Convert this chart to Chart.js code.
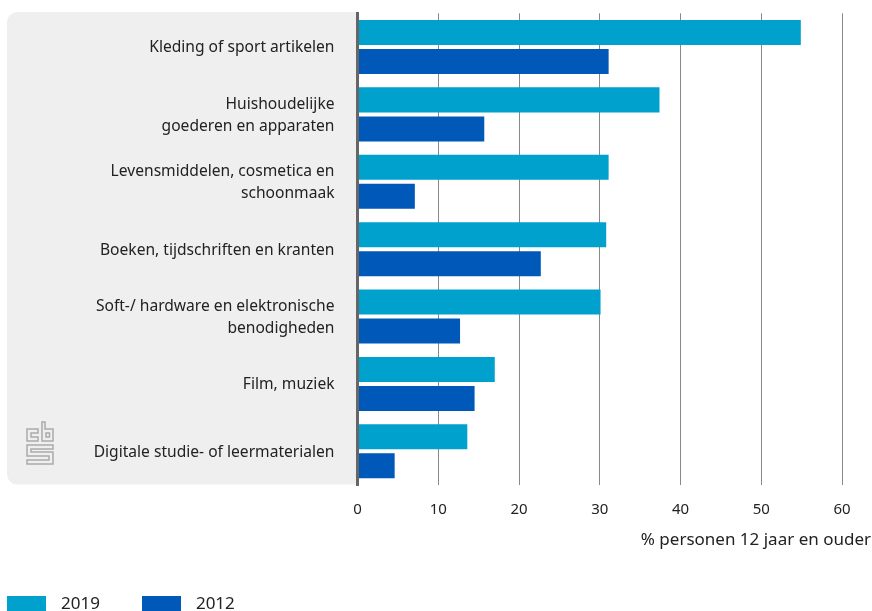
<!DOCTYPE html>
<html>
<head>
<meta charset="utf-8">
<title>Online aankopen</title>
<script src="https://cdn.jsdelivr.net/npm/chart.js@4"></script>
<style>
    html, body { margin: 0; padding: 0; background: #fff; overflow: hidden; }
    #wrap { position: relative; width: 872px; height: 611px; overflow: hidden; }
    #legend { position: absolute; left: 7px; top: 596px; display: flex; font: 17px "Noto Sans", sans-serif; color: #222; line-height: 14px; }
    #legend span { display: flex; margin-right: 42px; }
    #legend i { display: block; width: 39px; height: 15px; margin-right: 15px; }
</style>
</head>
<body>
<div id="wrap">
    <canvas id="chart-aankopen" width="872" height="611"></canvas>
    <div id="legend"></div>
</div>
<script>
const categories = [
    'Kleding of sport artikelen',
    ['Huishoudelijke', 'goederen en apparaten'],
    ['Levensmiddelen, cosmetica en', 'schoonmaak'],
    'Boeken, tijdschriften en kranten',
    ['Soft-/ hardware en elektronische', 'benodigheden'],
    'Film, muziek',
    'Digitale studie- of leermaterialen'
]
const values2019 = [54.9, 37.4, 31.1, 30.8, 30.1, 17, 13.6]
const values2012 = [31.1, 15.7, 7.1, 22.7, 12.7, 14.5, 4.6]
const xTicks = [0, 10, 20, 30, 40, 50, 60]
const xTitle = '% personen 12 jaar en ouder'

const font = '"Noto Sans", sans-serif'
const textColor = '#222'

// Grijs vlak achter de labels, met het logo linksonder
const panel = {
    id: 'panel',
    beforeDraw(chart) {
        const { ctx, chartArea } = chart
        ctx.save()
        ctx.fillStyle = '#efefef'
        ctx.beginPath()
        ctx.roundRect(7, 12, chartArea.left - 7, 472.5, [10, 0, 0, 10])
        ctx.fill()

        ctx.strokeStyle = '#aaa'
        ctx.lineWidth = 1.5
        ctx.beginPath()
        // c
        ctx.moveTo(38, 429); ctx.lineTo(27, 429); ctx.lineTo(27, 441); ctx.lineTo(38, 441)
        ctx.lineTo(38, 437); ctx.lineTo(31, 437); ctx.lineTo(31, 433); ctx.lineTo(38, 433); ctx.closePath()
        // b
        ctx.moveTo(42, 422); ctx.lineTo(45, 422); ctx.lineTo(45, 429); ctx.lineTo(53, 429)
        ctx.lineTo(53, 441); ctx.lineTo(42, 441); ctx.closePath()
        ctx.rect(46, 433, 3.5, 4)
        // s
        ctx.moveTo(53, 445); ctx.lineTo(27, 445); ctx.lineTo(27, 456); ctx.lineTo(49, 456)
        ctx.lineTo(49, 460); ctx.lineTo(27, 460); ctx.lineTo(27, 464); ctx.lineTo(53, 464)
        ctx.lineTo(53, 452); ctx.lineTo(31, 452); ctx.lineTo(31, 449); ctx.lineTo(53, 449); ctx.closePath()
        ctx.stroke()
        ctx.restore()
    },
    afterDraw(chart) {
        const { ctx } = chart
        ctx.save()
        ctx.fillStyle = textColor
        ctx.font = '17px ' + font
        ctx.textAlign = 'right'
        ctx.textBaseline = 'middle'
        ctx.fillText(xTitle, 871, 540)
        ctx.restore()
    }
}

function printChart() {

    const data = {
        labels: categories,
        datasets: [
            { label: '2019', data: values2019, backgroundColor: '#00a1cd' },
            { label: '2012', data: values2012, backgroundColor: '#0058b8' }
        ]
    }

    const options = {
        indexAxis: 'y',
        responsive: false,
        animation: false,
        categoryPercentage: 0.861,
        barPercentage: 0.862,
        layout: { padding: { top: 13.3, right: 30, bottom: 0, left: 0 } },
        plugins: {
            legend: { display: false },
            tooltip: { enabled: false }
        },
        scales: {
            x: {
                min: 0,
                max: 60,
                afterBuildTicks: axis => { axis.ticks = xTicks.map(value => ({ value })) },
                grid: { color: '#888', lineWidth: 1, drawTicks: false },
                border: { display: false },
                ticks: { color: textColor, padding: 15.5, maxRotation: 0, font: { family: font, size: 15 } },
                afterFit: axis => { axis.height = 126 }
            },
            y: {
                grid: { display: false },
                border: { color: '#666', width: 3, z: 1 },
                ticks: { color: textColor, padding: 15, labelOffset: 1, font: { family: font, size: 15.6, lineHeight: 1.4 } },
                afterFit: axis => {
                    axis.width = 357.5
                    axis.paddingTop = 0
                    axis.paddingBottom = 0
                }
            }
        }
    }

    const chart = new Chart('chart-aankopen', { type: 'bar', data, options, plugins: [panel] })

    // Legenda onder de grafiek
    document.getElementById('legend').innerHTML = chart.data.datasets
        .map(set => `<span><i style="background:${set.backgroundColor}"></i>${set.label}</span>`)
        .join('')
}

printChart()
</script>
</body>
</html>
